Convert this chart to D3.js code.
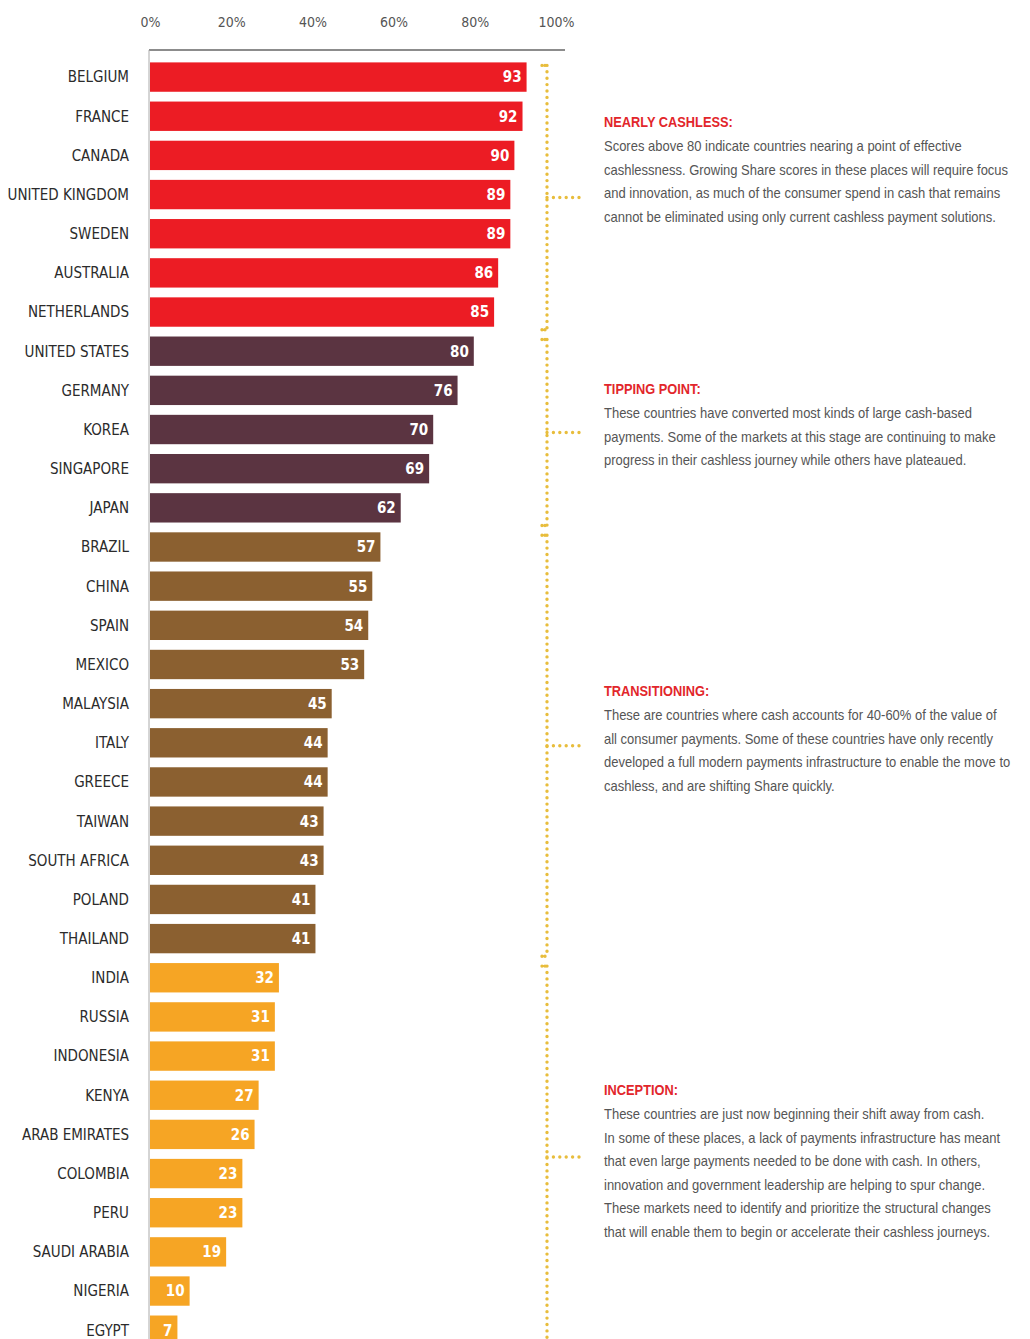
<!DOCTYPE html>
<html>
<head>
<meta charset="utf-8">
<script src="https://cdn.jsdelivr.net/npm/d3@7"></script>
<style>
  body { margin: 0; background: #fff; }
  #graphicContainer { width: 1030px; height: 1339px; overflow: hidden; }
  text { font-family: "DejaVu Sans Condensed", "Liberation Sans", sans-serif; }
  .x text { font-size: 14px; fill: #555; }
  .countryLabel { font-size: 15px; fill: #2b2b2b; }
  .barNumber { font-size: 15px; font-weight: bold; fill: #fff; }
  .noteTitle { font-family: "Liberation Sans", sans-serif; font-size: 15px; font-weight: bold; fill: #e2262b; }
  .noteText { font-family: "Liberation Sans", sans-serif; font-size: 15.2px; fill: #555; }
</style>
</head>
<body>
<div id="graphicContainer"></div>
<script>
var countries = ["BELGIUM", "FRANCE", "CANADA", "UNITED KINGDOM", "SWEDEN", "AUSTRALIA", "NETHERLANDS",
  "UNITED STATES", "GERMANY", "KOREA", "SINGAPORE", "JAPAN",
  "BRAZIL", "CHINA", "SPAIN", "MEXICO", "MALAYSIA", "ITALY", "GREECE", "TAIWAN", "SOUTH AFRICA", "POLAND", "THAILAND",
  "INDIA", "RUSSIA", "INDONESIA", "KENYA", "ARAB EMIRATES", "COLOMBIA", "PERU", "SAUDI ARABIA", "NIGERIA", "EGYPT"]

var scores = [93, 92, 90, 89, 89, 86, 85,
  80, 76, 70, 69, 62,
  57, 55, 54, 53, 45, 44, 44, 43, 43, 41, 41,
  32, 31, 31, 27, 26, 23, 23, 19, 10, 7]

var stages = ["NEARLY CASHLESS:", "TIPPING POINT:", "TRANSITIONING:", "INCEPTION:"]
var stageSizes = [7, 5, 11, 10]
var stageColors = ["#ec1c24", "#5b3441", "#8b6030", "#f6a524"]

var stageNotes = [
  ["Scores above 80 indicate countries nearing a point of effective",
   "cashlessness. Growing Share scores in these places will require focus",
   "and innovation, as much of the consumer spend in cash that remains",
   "cannot be eliminated using only current cashless payment solutions."],
  ["These countries have converted most kinds of large cash-based",
   "payments. Some of the markets at this stage are continuing to make",
   "progress in their cashless journey while others have plateaued."],
  ["These are countries where cash accounts for 40-60% of the value of",
   "all consumer payments. Some of these countries have only recently",
   "developed a full modern payments infrastructure to enable the move to",
   "cashless, and are shifting Share quickly."],
  ["These countries are just now beginning their shift away from cash.",
   "In some of these places, a lack of payments infrastructure has meant",
   "that even large payments needed to be done with cash. In others,",
   "innovation and government leadership are helping to spur change.",
   "These markets need to identify and prioritize the structural changes",
   "that will enable them to begin or accelerate their cashless journeys."]
]

var tickValues = [0, 20, 40, 60, 80, 100]

// layout
var width = 1030
var height = 1339
var noteX = 604
var noteSquash = 0.855
var noteTop = [122, 389, 691, 1090]
var lineGap = 23.6
var bracketX = 547

var data = countries.map(function (c, i) {
  return { country: c, score: scores[i] }
})

var stageIndex = []
stageSizes.forEach(function (n, s) {
  for (var k = 0; k < n; k++) stageIndex.push(s)
})
data.forEach(function (d, i) { d.stage = stageIndex[i] })

var svg = d3.select("#graphicContainer").append("svg")
  .attr("width", width)
  .attr("height", height)

var x = d3.scaleLinear().domain([0, 100]).range([149, 555])
var y = d3.scaleBand()
  .domain(countries)
  .range([57.5, 57.5 + countries.length * 39.16])
  .paddingInner(0.25)
  .paddingOuter(0.125)

// top axis
var xAxis = d3.axisTop(x)
  .tickValues(tickValues)
  .tickSize(0)
  .tickPadding(0)
  .tickFormat(function (d) { return d + "%" })

var axisG = svg.append("g")
  .attr("class", "x")
  .attr("transform", "translate(1,27)")
  .call(xAxis)
axisG.select(".domain").remove()

svg.append("line")
  .attr("x1", 149).attr("x2", 565)
  .attr("y1", 50).attr("y2", 50)
  .attr("stroke", "#666")
  .attr("stroke-width", 1.3)

svg.append("line")
  .attr("x1", 149).attr("x2", 149)
  .attr("y1", 50).attr("y2", height)
  .attr("stroke", "#aaa")
  .attr("stroke-width", 1)

// bars
svg.selectAll(".bar")
  .data(data)
  .enter().append("rect")
  .attr("class", "bar")
  .attr("x", x(0) + 1)
  .attr("y", function (d) { return y(d.country) })
  .attr("width", function (d) { return x(d.score) - x(0) - 1 })
  .attr("height", y.bandwidth())
  .attr("fill", function (d) { return stageColors[d.stage] })

svg.selectAll(".barNumber")
  .data(data)
  .enter().append("text")
  .attr("class", "barNumber")
  .attr("x", function (d) { return x(d.score) - 5 })
  .attr("y", function (d) { return y(d.country) + y.bandwidth() / 2 })
  .attr("dy", "0.36em")
  .attr("text-anchor", "end")
  .text(function (d) { return d.score })

svg.selectAll(".countryLabel")
  .data(data)
  .enter().append("text")
  .attr("class", "countryLabel")
  .attr("x", 129)
  .attr("y", function (d) { return y(d.country) + y.bandwidth() / 2 })
  .attr("dy", "0.36em")
  .attr("text-anchor", "end")
  .text(function (d) { return d.country })

// brackets and notes
var dotColor = "#e8bd3c"
var start = 0
stages.forEach(function (stage, s) {
  var first = countries[start]
  var last = countries[start + stageSizes[s] - 1]
  var top = y(first) + 3
  var bottom = y(last) + y.bandwidth() + 3
  var mid = (top + bottom) / 2

  svg.append("line")
    .attr("x1", bracketX).attr("x2", bracketX)
    .attr("y1", top).attr("y2", bottom)
    .attr("stroke", dotColor)
    .attr("stroke-width", 3.4)
    .attr("stroke-linecap", "round")
    .attr("stroke-dasharray", "0 6.4")

  ;[top, bottom].forEach(function (yy) {
    svg.append("line")
      .attr("x1", bracketX - 5).attr("x2", bracketX)
      .attr("y1", yy).attr("y2", yy)
      .attr("stroke", dotColor)
      .attr("stroke-width", 3.4)
      .attr("stroke-linecap", "round")
      .attr("stroke-dasharray", "0 3")
  })

  svg.append("line")
    .attr("x1", bracketX).attr("x2", bracketX + 33)
    .attr("y1", mid).attr("y2", mid)
    .attr("stroke", dotColor)
    .attr("stroke-width", 3.4)
    .attr("stroke-linecap", "round")
    .attr("stroke-dasharray", "0 6.4")

  // condensed note block
  var note = svg.append("g")
    .attr("transform", "translate(" + noteX + ",0) scale(" + noteSquash + ",1)")

  note.append("text")
    .attr("class", "noteTitle")
    .attr("x", 0)
    .attr("y", noteTop[s])
    .attr("dy", "0.36em")
    .text(stage)

  note.selectAll(".noteText")
    .data(stageNotes[s])
    .enter().append("text")
    .attr("class", "noteText")
    .attr("x", 0)
    .attr("y", function (d, i) { return noteTop[s] + (i + 1) * lineGap })
    .attr("dy", "0.36em")
    .text(function (d) { return d })

  start += stageSizes[s]
})
</script>
</body>
</html>
